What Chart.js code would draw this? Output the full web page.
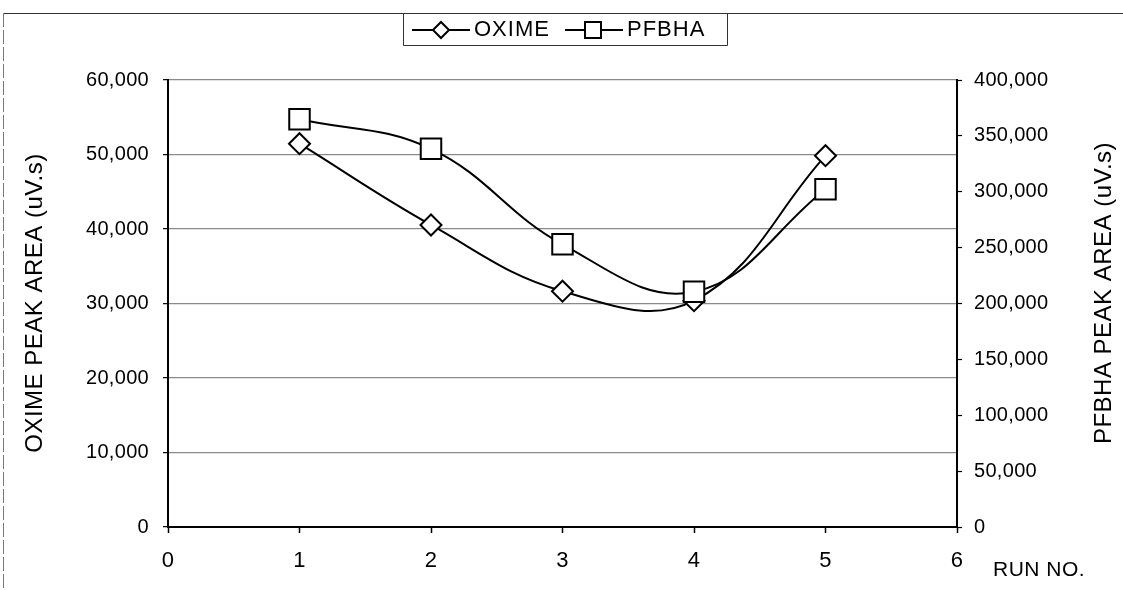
<!DOCTYPE html>
<html><head><meta charset="utf-8">
<script src="https://cdn.jsdelivr.net/npm/chart.js@4/dist/chart.umd.min.js"></script>
<style>html,body{margin:0;padding:0;background:#fff}#c{display:block}</style>
</head><body>
<canvas id="c" width="1123" height="590"></canvas>
<script>
// ---- data ----
const runs = [1, 2, 3, 4, 5];
const oximeArea = [51450, 40540, 31650, 30380, 49840];
const pfbhaArea = [364900, 338400, 253000, 210500, 302300];
const xTicks = [0, 1, 2, 3, 4, 5, 6];
const leftTicks = [0, 10000, 20000, 30000, 40000, 50000, 60000];
const rightTicks = [0, 50000, 100000, 150000, 200000, 250000, 300000, 350000, 400000];
const seriesNames = ['OXIME', 'PFBHA'];
const leftTitle = 'OXIME PEAK AREA (uV.s)';
const rightTitle = 'PFBHA PEAK AREA (uV.s)';
const xTitle = 'RUN NO.';

const FAM = '"Liberation Sans", Arial, sans-serif';
const yTickFont = {family: FAM, size: 20};
const xTickFont = {family: FAM, size: 22};
const fmt = v => Number(v).toLocaleString('en-US');

const spacingPlugin = {
  id: 'spacing',
  beforeUpdate(chart) { chart.ctx.letterSpacing = '0.3px'; },
  beforeDraw(chart) {
    const ctx = chart.ctx;
    ctx.letterSpacing = '0.3px';
    ctx.save();
    ctx.fillStyle = '#fff';
    ctx.fillRect(0, 0, chart.width, chart.height);
    ctx.restore();
  }
};

function drawDiamond(ctx, x, y, r) {
  ctx.beginPath();
  ctx.moveTo(x - r, y); ctx.lineTo(x, y - r); ctx.lineTo(x + r, y); ctx.lineTo(x, y + r);
  ctx.closePath();
  ctx.fillStyle = '#fff'; ctx.fill();
  ctx.lineWidth = 2; ctx.strokeStyle = '#000'; ctx.stroke();
}
function drawSquare(ctx, x, y, h) {
  ctx.beginPath();
  ctx.rect(x - h, y - h, 2 * h, 2 * h);
  ctx.fillStyle = '#fff'; ctx.fill();
  ctx.lineWidth = 2; ctx.strokeStyle = '#000'; ctx.stroke();
}

const decorPlugin = {
  id: 'decor',
  afterDraw(chart) {
    const ctx = chart.ctx;
    ctx.save();
    // outer frame remnants
    ctx.strokeStyle = '#333'; ctx.lineWidth = 1;
    ctx.beginPath(); ctx.moveTo(3, 13.5); ctx.lineTo(1123, 13.5); ctx.stroke();
    ctx.strokeStyle = '#777'; ctx.setLineDash([14, 3]);
    ctx.beginPath(); ctx.moveTo(3.5, 13); ctx.lineTo(3.5, 590); ctx.stroke();
    ctx.setLineDash([]);
    // legend box
    ctx.strokeStyle = '#333'; ctx.lineWidth = 1;
    ctx.beginPath();
    ctx.moveTo(403.5, 13.5); ctx.lineTo(403.5, 45.5); ctx.lineTo(727.5, 45.5); ctx.lineTo(727.5, 13.5);
    ctx.stroke();
    const ly = 30;
    ctx.strokeStyle = '#000'; ctx.lineWidth = 2;
    ctx.beginPath(); ctx.moveTo(412, ly); ctx.lineTo(470, ly); ctx.stroke();
    drawDiamond(ctx, 441, ly, 8);
    ctx.beginPath(); ctx.moveTo(565, ly); ctx.lineTo(623, ly); ctx.stroke();
    drawSquare(ctx, 593, ly, 8);
    ctx.fillStyle = '#000';
    ctx.font = '22px ' + FAM;
    ctx.letterSpacing = '1px';
    ctx.textBaseline = 'middle'; ctx.textAlign = 'left';
    ctx.fillText(seriesNames[0], 474, ly);
    ctx.fillText(seriesNames[1], 627, ly);
    // x title
    ctx.font = '21px ' + FAM;
    ctx.letterSpacing = '0.5px';
    ctx.fillText(xTitle, 993, 570);
    // y titles
    ctx.font = '24px ' + FAM;
    ctx.letterSpacing = '0.5px';
    ctx.textAlign = 'center';
    ctx.save(); ctx.translate(35, 303); ctx.rotate(-Math.PI / 2); ctx.fillText(leftTitle, 0, 0); ctx.restore();
    ctx.save(); ctx.translate(1104, 293); ctx.rotate(-Math.PI / 2); ctx.fillText(rightTitle, 0, 0); ctx.restore();
    ctx.restore();
  }
};

new Chart(document.getElementById('c'), {
  type: 'line',
  data: {
    datasets: [
      {
        label: seriesNames[0],
        data: runs.map((r, i) => ({x: r, y: oximeArea[i]})),
        yAxisID: 'y',
        borderColor: '#000', borderWidth: 2, tension: 0.4, fill: false,
        pointStyle: 'rectRot', pointRadius: 10.5, pointBorderWidth: 2,
        pointBackgroundColor: '#fff', pointBorderColor: '#000',
        order: 1
      },
      {
        label: seriesNames[1],
        data: runs.map((r, i) => ({x: r, y: pfbhaArea[i]})),
        yAxisID: 'y2',
        borderColor: '#000', borderWidth: 2, tension: 0.4, fill: false,
        pointStyle: 'rect', pointRadius: 14.5, pointBorderWidth: 2,
        pointBackgroundColor: '#fff', pointBorderColor: '#000',
        order: 0
      }
    ]
  },
  options: {
    responsive: false, animation: false, devicePixelRatio: 1,
    layout: {padding: {top: 80, left: 0, right: 0, bottom: 0}},
    plugins: {legend: {display: false}, tooltip: {enabled: false}},
    scales: {
      x: {
        type: 'linear', position: 'bottom', min: 0, max: 6,
        afterBuildTicks: s => { s.ticks = xTicks.map(v => ({value: v})); },
        afterFit: s => { s.height = 63; },
        ticks: {font: xTickFont, color: '#000', padding: 15, maxRotation: 0},
        grid: {drawOnChartArea: false, tickLength: 6, tickColor: '#000', tickWidth: 1.5},
        border: {color: '#000', width: 2}
      },
      y: {
        type: 'linear', position: 'left', min: 0, max: 60000,
        afterBuildTicks: s => { s.ticks = leftTicks.map(v => ({value: v})); },
        afterFit: s => { s.width = 168; },
        ticks: {font: yTickFont, color: '#000', padding: 14, callback: fmt},
        grid: {color: '#8a8a8a', lineWidth: 1.3, tickLength: 5, tickColor: '#000', tickWidth: 1.2},
        border: {color: '#000', width: 2}
      },
      y2: {
        type: 'linear', position: 'right', min: 0, max: 400000,
        afterBuildTicks: s => { s.ticks = rightTicks.map(v => ({value: v})); },
        afterFit: s => { s.width = 166; },
        ticks: {font: yTickFont, color: '#000', padding: 12, callback: fmt},
        grid: {drawOnChartArea: false, tickLength: 5, tickColor: '#000', tickWidth: 1.2},
        border: {color: '#000', width: 2}
      }
    }
  },
  plugins: [spacingPlugin, decorPlugin]
});
</script>
</body></html>
